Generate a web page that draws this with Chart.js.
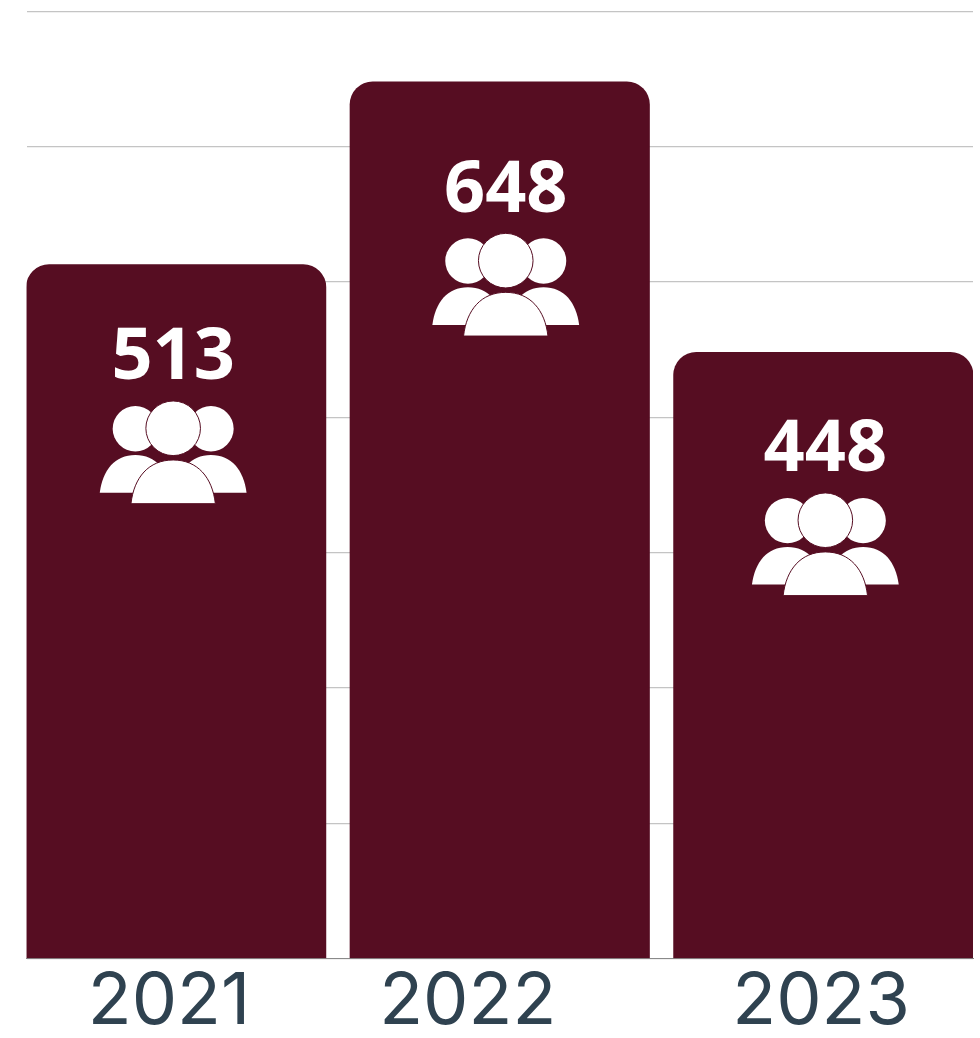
<!DOCTYPE html>
<html>
<head>
<meta charset="utf-8">
<title>2021-2023</title>
<script src="https://cdn.jsdelivr.net/npm/chart.js@4"></script>
<style>
  html, body { margin: 0; padding: 0; background: #fff; }
  canvas { display: block; }
</style>
</head>
<body>
<canvas id="chart" width="980" height="1038"></canvas>
<script>
const years = [2021, 2022, 2023];
const counts = [513, 648, 448];

const barColor = '#560d22';
// the labels in the original don't sit centred under their bars
const tickNudge = [-0.022, -0.099, -0.007];
const valueNudge = [-3, 6, 2];

// Three people icon, drawn around the top centre of the icon
function drawPeople(ctx, cx, top) {
  function dome(x, halfW, baseY, topY) {
    const h = baseY - topY;
    ctx.beginPath();
    ctx.moveTo(cx + x - halfW, top + baseY);
    ctx.bezierCurveTo(cx + x - halfW + 3, top + baseY - h * 0.6, cx + x - halfW * 0.58, top + topY, cx + x, top + topY);
    ctx.bezierCurveTo(cx + x + halfW * 0.58, top + topY, cx + x + halfW - 3, top + baseY - h * 0.6, cx + x + halfW, top + baseY);
    ctx.closePath();
  }
  function head(x, y, r) {
    ctx.beginPath();
    ctx.arc(cx + x, top + y, r, 0, Math.PI * 2);
  }
  ctx.save();
  ctx.fillStyle = '#fff';
  ctx.strokeStyle = barColor;
  ctx.lineWidth = 1;
  [-37.8, 37.8].forEach(x => {
    head(x, 26.7, 22.7);
    ctx.fill();
    dome(x, 35.6, 90.7, 53);
    ctx.fill();
  });
  dome(0, 42.2, 101.7, 58);
  ctx.fill();
  ctx.stroke();
  head(0, 26.3, 27.3);
  ctx.fill();
  ctx.stroke();
  ctx.restore();
}

const barContent = {
  id: 'barContent',
  afterDatasetsDraw(chart) {
    const ctx = chart.ctx;
    const bars = chart.getDatasetMeta(0).data;
    const yScale = chart.scales.y;
    bars.forEach((bar, i) => {
      const cx = bar.x + valueNudge[i];
      const textY = yScale.getPixelForValue(counts[i]) + [94.5, 109.5, 98.5][i];
      ctx.save();
      ctx.fillStyle = '#fff';
      ctx.font = 'bold 72px "Open Sans"';
      ctx.textAlign = 'center';
      ctx.textBaseline = 'middle';
      ctx.fillText(String(counts[i]), cx, textY);
      ctx.restore();
      drawPeople(ctx, cx, textY + 43);
    });
  }
};

new Chart(document.getElementById('chart'), {
  type: 'bar',
  data: {
    labels: years,
    datasets: [{
      data: years.map((y, i) => ({ x: y, y: counts[i] })),
      backgroundColor: barColor,
      borderRadius: { topLeft: 23, topRight: 23, bottomLeft: 0, bottomRight: 0 },
      barThickness: 299.5
    }]
  },
  options: {
    responsive: false,
    animation: false,
    layout: { padding: { left: 26.5, right: 7, top: 11.5, bottom: 0 } },
    plugins: { legend: { display: false }, tooltip: { enabled: false } },
    scales: {
      x: {
        type: 'linear',
        offset: false,
        min: 2020.5375,
        max: 2023.4625,
        afterBuildTicks(scale) {
          scale.ticks = years.map((y, i) => ({ value: y + tickNudge[i] }));
        },
        afterFit(scale) {
          scale.height = 79.5;
        },
        grid: { display: false, offset: false },
        border: { display: true, color: '#8a8a8a', width: 1 },
        ticks: {
          autoSkip: false,
          maxRotation: 0,
          padding: 0,
          color: '#2f4250',
          font: { family: 'Inter', size: 72, weight: '400', lineHeight: 1 },
          callback: (value, index) => String(years[index])
        }
      },
      y: {
        min: 0,
        max: 700,
        ticks: { display: false, stepSize: 100 },
        border: { display: false },
        grid: { color: '#c4c4c4', lineWidth: 1.2, drawTicks: false }
      }
    }
  },
  plugins: [barContent]
});
</script>
</body>
</html>
